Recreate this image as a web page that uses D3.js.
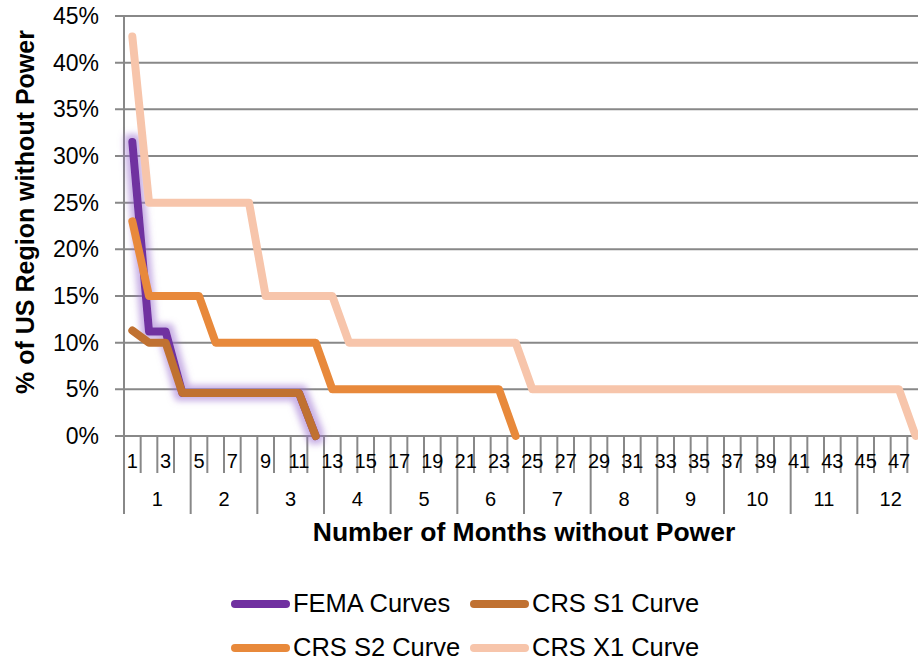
<!DOCTYPE html>
<html>
<head>
<meta charset="utf-8">
<script src="https://cdn.jsdelivr.net/npm/d3@7"></script>
<style>
  body { margin: 0; background: #fff; }
  svg { display: block; font-family: Arial, "Liberation Sans", sans-serif; }
</style>
</head>
<body>
<svg id="chart" width="918" height="661"></svg>
<script>
// weeks 1..48, grouped 4 per month
var weeks = ["1","2","3","4","5","6","7","8","9","10","11","12","13","14","15","16",
             "17","18","19","20","21","22","23","24","25","26","27","28","29","30","31","32",
             "33","34","35","36","37","38","39","40","41","42","43","44","45","46","47","48"];
var months = ["1","2","3","4","5","6","7","8","9","10","11","12"];
var yTicks = [0, 0.05, 0.10, 0.15, 0.20, 0.25, 0.30, 0.35, 0.40, 0.45];

// % of region without power, one value per week
var femaCurve = [0.315, 0.112, 0.112, 0.046, 0.046, 0.046, 0.046, 0.046, 0.046, 0.046, 0.046, 0];
var crsS1 = [0.113, 0.100, 0.100, 0.046, 0.046, 0.046, 0.046, 0.046, 0.046, 0.046, 0.046, 0];
var crsS2 = [0.23, 0.15, 0.15, 0.15, 0.15, 0.10, 0.10, 0.10, 0.10, 0.10, 0.10, 0.10,
             0.05, 0.05, 0.05, 0.05, 0.05, 0.05, 0.05, 0.05, 0.05, 0.05, 0.05, 0];
var crsX1 = [0.428, 0.25, 0.25, 0.25, 0.25, 0.25, 0.25, 0.25, 0.15, 0.15, 0.15, 0.15,
             0.15, 0.10, 0.10, 0.10, 0.10, 0.10, 0.10, 0.10, 0.10, 0.10, 0.10, 0.10,
             0.05, 0.05, 0.05, 0.05, 0.05, 0.05, 0.05, 0.05, 0.05, 0.05, 0.05, 0.05,
             0.05, 0.05, 0.05, 0.05, 0.05, 0.05, 0.05, 0.05, 0.05, 0.05, 0.05, 0];

var seriesNames = ["FEMA Curves", "CRS S1 Curve", "CRS S2 Curve", "CRS X1 Curve"];
var seriesColors = ["#7030a0", "#c07131", "#e8893b", "#f7c5ab"];
var seriesValues = [femaCurve, crsS1, crsS2, crsX1];

var svg = d3.select("#chart");
// note: "top" is taken by window.top, so use plot* names
var plotLeft = 124, plotTop = 16, plotBottom = 436, plotRight = 924;
var gridColor = "#888888";

var x = d3.scaleBand().domain(weeks).range([plotLeft, plotRight]).padding(0);
var y = d3.scaleLinear().domain([0, 0.45]).range([plotBottom, plotTop]);
var bw = x.bandwidth();

function drawGrid()
{
    svg.append("g").selectAll("line")
        .data(yTicks)
        .join("line")
            .attr("x1", plotLeft - 9)
            .attr("x2", 918)
            .attr("y1", function(d){ return y(d); })
            .attr("y2", function(d){ return y(d); })
            .style("stroke", gridColor)
            .style("stroke-width", 2);

    svg.append("line")
        .attr("x1", plotLeft).attr("x2", plotLeft)
        .attr("y1", plotTop).attr("y2", plotBottom)
        .style("stroke", gridColor)
        .style("stroke-width", 2);

    svg.append("g").selectAll("text")
        .data(yTicks)
        .join("text")
            .attr("x", 99)
            .attr("y", function(d){ return y(d) + 8; })
            .attr("text-anchor", "end")
            .style("font-size", "23px")
            .text(d3.format(".0%"));
}

function drawXAxis()
{
    var g = svg.append("g");
    // tick marks at every week boundary, longer ones between months
    var bounds = d3.range(weeks.length + 1);
    g.selectAll("line.tick")
        .data(bounds)
        .join("line")
            .attr("class", "tick")
            .attr("x1", function(i){ return plotLeft + i * bw; })
            .attr("x2", function(i){ return plotLeft + i * bw; })
            .attr("y1", plotBottom)
            .attr("y2", function(i){ return i % 4 == 0 ? 514 : 473; })
            .style("stroke", gridColor)
            .style("stroke-width", 2);

    g.selectAll("text.week")
        .data(weeks.filter(function(w, i){ return i % 2 == 0; }))
        .join("text")
            .attr("class", "week")
            .attr("x", function(d){ return x(d) + bw / 2; })
            .attr("y", 468)
            .attr("text-anchor", "middle")
            .style("font-size", "20px")
            .text(function(d){ return d; });

    g.selectAll("text.month")
        .data(months)
        .join("text")
            .attr("class", "month")
            .attr("x", function(d, i){ return x(weeks[i * 4]) + bw * 2; })
            .attr("y", 506)
            .attr("text-anchor", "middle")
            .style("font-size", "20px")
            .text(function(d){ return d; });

    svg.append("text")
        .attr("x", 524)
        .attr("y", 541)
        .attr("text-anchor", "middle")
        .style("font-size", "26.5px")
        .style("font-weight", "bold")
        .text("Number of Months without Power");

    svg.append("text")
        .attr("transform", "translate(34,212) rotate(-90)")
        .attr("text-anchor", "middle")
        .style("font-size", "25px")
        .style("font-weight", "bold")
        .text("% of US Region without Power");
}

function drawLines()
{
    var defs = svg.append("defs");
    var glow = defs.append("filter").attr("id", "glow")
        .attr("x", "-50%").attr("y", "-50%").attr("width", "200%").attr("height", "200%");
    glow.append("feMorphology").attr("in", "SourceAlpha").attr("operator", "dilate").attr("radius", 4).attr("result", "fat");
    glow.append("feGaussianBlur").attr("in", "fat").attr("stdDeviation", 3).attr("result", "blur");
    glow.append("feFlood").attr("flood-color", "#9b6fcf").attr("flood-opacity", 0.55);
    glow.append("feComposite").attr("in2", "blur").attr("operator", "in").attr("result", "halo");
    var merge = glow.append("feMerge");
    merge.append("feMergeNode").attr("in", "halo");
    merge.append("feMergeNode").attr("in", "SourceGraphic");

    var line = d3.line()
        .x(function(d, i){ return x(weeks[i]) + bw / 2; })
        .y(function(d){ return y(d); });

    seriesValues.forEach(function(vals, k){
        svg.append("path")
            .attr("d", line(vals))
            .attr("filter", k == 0 ? "url(#glow)" : null)
            .style("fill", "none")
            .style("stroke", seriesColors[k])
            .style("stroke-width", 8)
            .style("stroke-linejoin", "round")
            .style("stroke-linecap", "round");
    });
}

function drawLegend()
{
    var items = [
        {x: 231, y: 604, k: 0},
        {x: 470, y: 604, k: 1},
        {x: 231, y: 648, k: 2},
        {x: 470, y: 648, k: 3}
    ];
    var g = svg.append("g");
    items.forEach(function(it){
        g.append("line")
            .attr("x1", it.x + 4).attr("x2", it.x + 55)
            .attr("y1", it.y).attr("y2", it.y)
            .style("stroke", seriesColors[it.k])
            .style("stroke-width", 8)
            .style("stroke-linecap", "round");
        g.append("text")
            .attr("x", it.x + 62)
            .attr("y", it.y + 8)
            .style("font-size", "25.5px")
            .text(seriesNames[it.k]);
    });
}

drawGrid();
drawXAxis();
drawLines();
drawLegend();
</script>
</body>
</html>
